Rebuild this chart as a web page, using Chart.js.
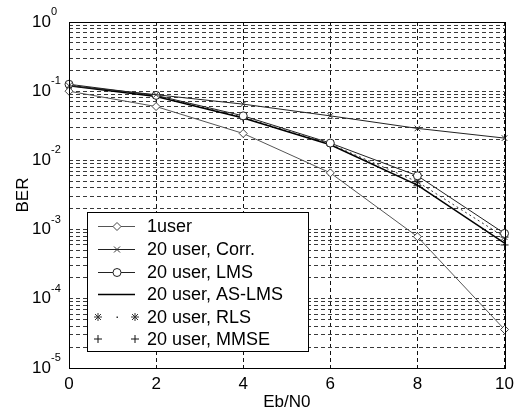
<!DOCTYPE html>
<html>
<head>
<meta charset="utf-8">
<script src="https://cdn.jsdelivr.net/npm/chart.js@4.4.0/dist/chart.umd.min.js"></script>
<style>
  body { margin: 0; background: #fff; }
  canvas { display: block; }
</style>
</head>
<body>
<canvas id="berChart" width="520" height="414"></canvas>
<script>
// Eb/N0 in dB and measured BER per receiver
const ebn0 = [0, 2, 4, 6, 8, 10];
const ber1user = [0.1, 0.06, 0.0245, 0.0066, 0.00079, 0.000036];
const berCorr = [0.12, 0.089, 0.065, 0.044, 0.029, 0.021];
const berLMS = [0.126, 0.087, 0.044, 0.0178, 0.006, 0.00088];
const berASLMS = [0.12, 0.084, 0.041, 0.0168, 0.0044, 0.00064];
const berRLS = [0.122, 0.086, 0.042, 0.0172, 0.0049, 0.00078];
const berMMSE = [0.119, 0.083, 0.041, 0.0166, 0.0043, 0.0006];

const xTicks = [0, 2, 4, 6, 8, 10];
const yExponents = [0, -1, -2, -3, -4, -5];

const labels = ['1user', '20 user, Corr.', '20 user, LMS', '20 user, AS-LMS', '20 user, RLS', '20 user, MMSE'];

const FONT = 'Arial, "Liberation Sans", Helvetica, sans-serif';

// log grid: 1..9 x 10^k for each decade
const yGrid = [];
for (let e = -5; e < 0; e++) {
  for (let m = 1; m < 10; m++) yGrid.push(m * Math.pow(10, e));
}
yGrid.push(1);

function series(label, values, style) {
  return Object.assign({
    label: label,
    data: ebn0.map((x, i) => ({ x: x, y: values[i] })),
    borderWidth: 1,
    pointRadius: 4,
    pointBorderWidth: 1,
    pointBackgroundColor: '#fff',
    tension: 0,
    clip: false
  }, style);
}

const datasets = [
  series(labels[0], ber1user, { borderColor: '#555', pointBorderColor: '#444', pointStyle: 'rectRot' }),
  series(labels[1], berCorr, { borderColor: '#222', pointBorderColor: '#333', pointStyle: 'crossRot' }),
  series(labels[2], berLMS, { borderColor: '#222', pointBorderColor: '#222', pointStyle: 'circle' }),
  series(labels[3], berASLMS, { borderColor: '#000', borderWidth: 1.5, pointRadius: 0 }),
  series(labels[4], berRLS, { borderColor: '#333', borderDash: [2, 3], pointBorderColor: '#111', pointStyle: 'star' }),
  series(labels[5], berMMSE, { showLine: false, borderColor: '#111', pointBorderColor: '#111', pointStyle: 'cross' })
];

function drawMarker(ctx, kind, x, y, r) {
  ctx.beginPath();
  if (kind === 'rectRot') {
    ctx.moveTo(x, y - r); ctx.lineTo(x + r, y); ctx.lineTo(x, y + r); ctx.lineTo(x - r, y); ctx.closePath();
    ctx.fillStyle = '#fff'; ctx.fill();
  } else if (kind === 'circle') {
    ctx.arc(x, y, r, 0, Math.PI * 2);
    ctx.fillStyle = '#fff'; ctx.fill();
  } else if (kind === 'crossRot') {
    const d = r * 0.75;
    ctx.moveTo(x - d, y - d); ctx.lineTo(x + d, y + d);
    ctx.moveTo(x + d, y - d); ctx.lineTo(x - d, y + d);
  } else if (kind === 'cross') {
    ctx.moveTo(x - r, y); ctx.lineTo(x + r, y);
    ctx.moveTo(x, y - r); ctx.lineTo(x, y + r);
  } else if (kind === 'star') {
    const d = r * 0.75;
    ctx.moveTo(x - r, y); ctx.lineTo(x + r, y);
    ctx.moveTo(x, y - r); ctx.lineTo(x, y + r);
    ctx.moveTo(x - d, y - d); ctx.lineTo(x + d, y + d);
    ctx.moveTo(x + d, y - d); ctx.lineTo(x - d, y + d);
  }
  ctx.stroke();
}

// box around the axes, y tick labels with exponents, legend
const framePlugin = {
  id: 'frame',
  afterDraw(chart) {
    const ctx = chart.ctx;
    const a = chart.chartArea;
    const yScale = chart.scales.y;
    ctx.save();
    ctx.strokeStyle = '#000';
    ctx.lineWidth = 1;
    ctx.setLineDash([]);
    ctx.strokeRect(Math.round(a.left) + 0.5, Math.round(a.top) + 0.5,
      Math.round(a.right - a.left), Math.round(a.bottom - a.top));

    ctx.fillStyle = '#000';
    ctx.textBaseline = 'middle';
    yExponents.forEach(e => {
      const py = yScale.getPixelForValue(Math.pow(10, e));
      ctx.font = '17px ' + FONT;
      ctx.textAlign = 'right';
      ctx.fillText('10', 51, py);
      ctx.font = '11px ' + FONT;
      ctx.textAlign = 'left';
      ctx.fillText(String(e), 51, py - 10);
    });

    // legend
    const lx = 87, ly = 212, lw = 221, lh = 139;
    ctx.fillStyle = '#fff';
    ctx.fillRect(lx, ly, lw, lh);
    ctx.strokeStyle = '#000';
    ctx.strokeRect(lx + 0.5, ly + 0.5, lw, lh);
    const rowY = [226, 249, 272, 294, 317, 339];
    const x1 = 98, x2 = 135, xm = 117;
    chart.data.datasets.forEach((ds, i) => {
      const y = rowY[i];
      ctx.strokeStyle = ds.borderColor;
      ctx.lineWidth = ds.borderWidth;
      if (i === 4) {
        drawMarker(ctx, 'star', x1, y, 4);
        drawMarker(ctx, 'star', x2, y, 4);
        ctx.fillStyle = '#333';
        ctx.fillRect(xm - 0.5, y - 0.5, 1.5, 1.5);
      } else if (i === 5) {
        drawMarker(ctx, 'cross', x1, y, 4);
        drawMarker(ctx, 'cross', x2, y, 4);
      } else {
        ctx.beginPath();
        ctx.moveTo(x1, y + 0.5); ctx.lineTo(x2, y + 0.5);
        ctx.stroke();
        if (ds.pointRadius > 0) {
          ctx.lineWidth = 1;
          ctx.strokeStyle = ds.pointBorderColor;
          drawMarker(ctx, ds.pointStyle, xm, y + 0.5, 4);
        }
      }
      ctx.fillStyle = '#000';
      ctx.font = '18px ' + FONT;
      ctx.textAlign = 'left';
      ctx.textBaseline = 'middle';
      ctx.fillText(ds.label, 147, y + 1);
    });
    ctx.restore();
  }
};

new Chart(document.getElementById('berChart').getContext('2d'), {
  type: 'line',
  data: { datasets: datasets },
  options: {
    responsive: false,
    animation: false,
    layout: { padding: { top: 22, right: 11, left: 0, bottom: 0 } },
    plugins: {
      legend: { display: false },
      tooltip: { enabled: false }
    },
    scales: {
      x: {
        type: 'linear',
        min: 0,
        max: 10,
        afterBuildTicks: scale => { scale.ticks = xTicks.map(v => ({ value: v })); },
        afterFit: scale => { scale.height = 46; },
        grid: { color: '#111', lineWidth: 1, drawTicks: false },
        border: { display: false, dash: [4, 3] },
        ticks: { color: '#000', padding: 6, font: { family: FONT, size: 17 }, maxRotation: 0 },
        title: { display: true, text: 'Eb/N0', color: '#000', padding: { top: 0, bottom: 1 }, font: { family: FONT, size: 17 } }
      },
      y: {
        type: 'logarithmic',
        min: 1e-5,
        max: 1,
        afterBuildTicks: scale => { scale.ticks = yGrid.map(v => ({ value: v })); },
        afterFit: scale => { scale.width = 69; },
        grid: { color: '#3a3a3a', lineWidth: 1, drawTicks: false },
        border: { display: false, dash: [4, 3] },
        ticks: { display: false },
        title: { display: true, text: 'BER', color: '#000', padding: { top: 13, bottom: 0 }, font: { family: FONT, size: 17 } }
      }
    }
  },
  plugins: [framePlugin]
});
</script>
</body>
</html>
